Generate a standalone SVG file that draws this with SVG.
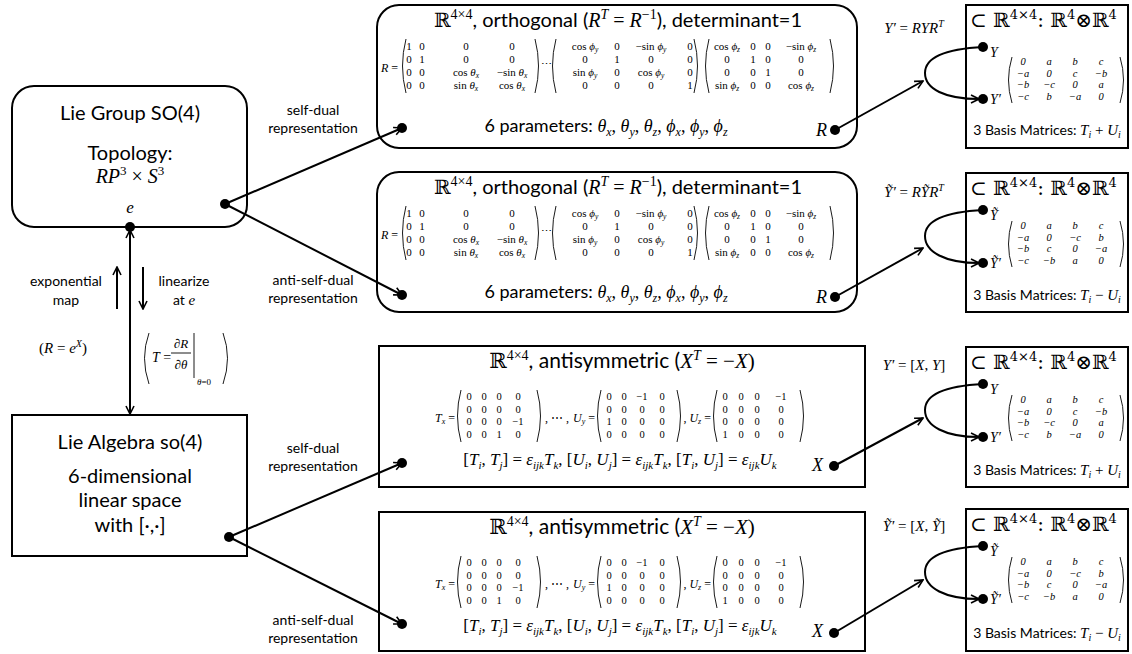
<svg xmlns="http://www.w3.org/2000/svg" width="1132" height="654" viewBox="0 0 1132 654">
<style>
.box{fill:#fff;stroke:#000;stroke-width:2}
.c{fill:none;stroke:#000;stroke-width:2}
.p{fill:none;stroke:#000;stroke-width:0.9}
.s{font-family:Lato,"Open Sans",sans-serif;fill:#000}
.m{font-family:"Liberation Serif","DejaVu Serif",serif;font-style:italic}
.r{font-family:"Liberation Serif","DejaVu Serif",serif;font-style:normal}
.bb{font-family:"DejaVu Serif",serif;font-style:normal}
.mx{font-family:"Liberation Serif","DejaVu Serif",serif;font-size:11px;text-anchor:middle}
.mz{font-family:"Liberation Serif","DejaVu Serif",serif;font-size:10.5px;text-anchor:middle}
.sm{font-family:"Liberation Serif","DejaVu Serif",serif;font-size:10.5px;text-anchor:middle;font-style:italic}
.sb{font-size:7.5px;font-style:italic}
.lbl{font-family:Lato,"Open Sans",sans-serif;font-size:14px;text-anchor:middle}
</style>
<defs>
<marker id="ah" viewBox="0 0 10 10" refX="9" refY="5" markerWidth="10" markerHeight="10" markerUnits="userSpaceOnUse" orient="auto">
<path d="M1,1 L9,5 L1,9" fill="none" stroke="#000" stroke-width="1.6"/>
</marker>
</defs>

<!-- Lie Group -->
<g id="lie-group">
<rect class="box" x="12" y="86" width="235" height="141" rx="22"/>
<text class="s" x="130" y="120" font-size="20" text-anchor="middle">Lie Group SO(4)</text>
<text class="s" x="130" y="160" font-size="20" text-anchor="middle">Topology:</text>
<text class="m" x="130" y="183" font-size="20" text-anchor="middle">RP<tspan class="r" font-size="13" dy="-8">3</tspan><tspan class="r" dy="8"> × </tspan>S<tspan class="r" font-size="13" dy="-8">3</tspan></text>
<text class="m" x="130" y="213" font-size="17" text-anchor="middle">e</text>
</g>

<!-- Lie Algebra -->
<g id="lie-algebra">
<rect class="box" x="12" y="415" width="235" height="141"/>
<text class="s" x="130" y="449" font-size="20" text-anchor="middle">Lie Algebra so(4)</text>
<text class="s" x="130" y="483" font-size="20" text-anchor="middle">6-dimensional</text>
<text class="s" x="130" y="507" font-size="20" text-anchor="middle">linear space</text>
<text class="s" x="130" y="532" font-size="20" text-anchor="middle">with [·,·]</text>
</g>

<!-- left annotations -->
<g id="exp-linearize">
<text class="lbl" x="66" y="286">exponential</text>
<text class="lbl" x="66" y="305">map</text>
<text class="lbl" x="184" y="286">linearize</text>
<text class="lbl" x="184" y="305">at <tspan class="m" font-size="15">e</tspan></text>
<text class="r" x="63" y="353" font-size="15" text-anchor="middle">(<tspan class="m">R</tspan> = <tspan class="m">e</tspan><tspan class="m" font-size="10" dy="-6">X</tspan><tspan dy="6">)</tspan></text>
<path class="p" d="M149,333 Q140,358 149,384"/>
<text class="m" x="152" y="362" font-size="14">T<tspan class="r"> =</tspan></text>
<text class="r" x="181" y="348" font-size="13" text-anchor="middle">∂<tspan class="m">R</tspan></text>
<line x1="171" y1="353" x2="191" y2="353" stroke="#000" stroke-width="0.9"/>
<text class="r" x="181" y="369" font-size="13" text-anchor="middle">∂<tspan class="m">θ</tspan></text>
<line x1="194" y1="333" x2="194" y2="378" stroke="#000" stroke-width="0.9"/>
<text class="r" x="197" y="385" font-size="9"><tspan class="m">θ</tspan>=0</text>
<path class="p" d="M223,333 Q232,358 223,384"/>
</g>

<!-- representation labels -->
<g id="rep-labels">
<text class="lbl" x="313" y="115">self-dual</text>
<text class="lbl" x="313" y="133">representation</text>
<text class="lbl" x="313" y="285">anti-self-dual</text>
<text class="lbl" x="313" y="303">representation</text>
<text class="lbl" x="313" y="453">self-dual</text>
<text class="lbl" x="313" y="471">representation</text>
<text class="lbl" x="313" y="625">anti-self-dual</text>
<text class="lbl" x="313" y="643">representation</text>
</g>

<!-- group self-dual box -->
<g id="group-sd" transform="translate(0,5)">
<rect class="box" x="377" y="0" width="480" height="143" rx="22"/>
<text class="s" x="618" y="22" font-size="20" text-anchor="middle"><tspan class="bb">ℝ</tspan><tspan class="r" font-size="14" dy="-8">4×4</tspan><tspan dy="8">, orthogonal (</tspan><tspan class="m">R</tspan><tspan class="m" font-size="14" dy="-8">T</tspan><tspan class="r" dy="8"> = </tspan><tspan class="m">R</tspan><tspan class="r" font-size="14" dy="-8">−1</tspan><tspan dy="8">), determinant=1</tspan></text>
<text class="m" x="381" y="67" font-size="12">R<tspan class="r"> =</tspan></text>
<path class="p" d="M406,34 Q399,61 406,88"/><path class="p" d="M535,34 Q542,61 535,88"/>
<text class="mx" y="45"><tspan x="409">1</tspan><tspan x="422">0</tspan><tspan x="466">0</tspan><tspan x="512">0</tspan></text>
<text class="mx" y="58"><tspan x="409">0</tspan><tspan x="422">1</tspan><tspan x="466">0</tspan><tspan x="512">0</tspan></text>
<text class="mx" y="71"><tspan x="409">0</tspan><tspan x="422">0</tspan></text>
<text class="mx" x="466" y="71">cos <tspan class="m">θ</tspan><tspan class="sb" dy="2">x</tspan></text>
<text class="mx" x="512" y="71">−sin <tspan class="m">θ</tspan><tspan class="sb" dy="2">x</tspan></text>
<text class="mx" y="84"><tspan x="409">0</tspan><tspan x="422">0</tspan></text>
<text class="mx" x="466" y="84">sin <tspan class="m">θ</tspan><tspan class="sb" dy="2">x</tspan></text>
<text class="mx" x="512" y="84">cos <tspan class="m">θ</tspan><tspan class="sb" dy="2">x</tspan></text>
<text class="mx" x="546" y="63">⋯</text>
<path class="p" d="M556,34 Q549,61 556,88"/><path class="p" d="M694,34 Q701,61 694,88"/>
<text class="mx" x="585" y="45">cos <tspan class="m">ϕ</tspan><tspan class="sb" dy="2">y</tspan></text>
<text class="mx" y="45"><tspan x="617">0</tspan><tspan x="690">0</tspan></text>
<text class="mx" x="651" y="45">−sin <tspan class="m">ϕ</tspan><tspan class="sb" dy="2">y</tspan></text>
<text class="mx" y="58"><tspan x="585">0</tspan><tspan x="617">1</tspan><tspan x="651">0</tspan><tspan x="690">0</tspan></text>
<text class="mx" x="585" y="71">sin <tspan class="m">ϕ</tspan><tspan class="sb" dy="2">y</tspan></text>
<text class="mx" y="71"><tspan x="617">0</tspan><tspan x="690">0</tspan></text>
<text class="mx" x="651" y="71">cos <tspan class="m">ϕ</tspan><tspan class="sb" dy="2">y</tspan></text>
<text class="mx" y="84"><tspan x="585">0</tspan><tspan x="617">0</tspan><tspan x="651">0</tspan><tspan x="690">1</tspan></text>
<path class="p" d="M709,34 Q702,61 709,88"/><path class="p" d="M830,34 Q837,61 830,88"/>
<text class="mx" x="727" y="45">cos <tspan class="m">ϕ</tspan><tspan class="sb" dy="2">z</tspan></text>
<text class="mx" y="45"><tspan x="753">0</tspan><tspan x="768">0</tspan></text>
<text class="mx" x="801" y="45">−sin <tspan class="m">ϕ</tspan><tspan class="sb" dy="2">z</tspan></text>
<text class="mx" y="58"><tspan x="727">0</tspan><tspan x="753">1</tspan><tspan x="768">0</tspan><tspan x="801">0</tspan></text>
<text class="mx" y="71"><tspan x="727">0</tspan><tspan x="753">0</tspan><tspan x="768">1</tspan><tspan x="801">0</tspan></text>
<text class="mx" x="727" y="84">sin <tspan class="m">ϕ</tspan><tspan class="sb" dy="2">z</tspan></text>
<text class="mx" y="84"><tspan x="753">0</tspan><tspan x="768">0</tspan></text>
<text class="mx" x="801" y="84">cos <tspan class="m">ϕ</tspan><tspan class="sb" dy="2">z</tspan></text>
<text class="s" x="606" y="127" font-size="18" text-anchor="middle">6 parameters: <tspan class="m">θ</tspan><tspan class="m" font-size="12" dy="4">x</tspan><tspan class="r" dy="-4">, </tspan><tspan class="m">θ</tspan><tspan class="m" font-size="12" dy="4">y</tspan><tspan class="r" dy="-4">, </tspan><tspan class="m">θ</tspan><tspan class="m" font-size="12" dy="4">z</tspan><tspan class="r" dy="-4">, </tspan><tspan class="m">ϕ</tspan><tspan class="m" font-size="12" dy="4">x</tspan><tspan class="r" dy="-4">, </tspan><tspan class="m">ϕ</tspan><tspan class="m" font-size="12" dy="4">y</tspan><tspan class="r" dy="-4">, </tspan><tspan class="m">ϕ</tspan><tspan class="m" font-size="12" dy="4">z</tspan></text>
<text class="m" x="816" y="131" font-size="18">R</text>
</g>

<!-- group anti-self-dual box -->
<g id="group-asd" transform="translate(0,172)">
<rect class="box" x="377" y="0" width="480" height="140" rx="22"/>
<text class="s" x="618" y="22" font-size="20" text-anchor="middle"><tspan class="bb">ℝ</tspan><tspan class="r" font-size="14" dy="-8">4×4</tspan><tspan dy="8">, orthogonal (</tspan><tspan class="m">R</tspan><tspan class="m" font-size="14" dy="-8">T</tspan><tspan class="r" dy="8"> = </tspan><tspan class="m">R</tspan><tspan class="r" font-size="14" dy="-8">−1</tspan><tspan dy="8">), determinant=1</tspan></text>
<text class="m" x="381" y="67" font-size="12">R<tspan class="r"> =</tspan></text>
<path class="p" d="M406,34 Q399,61 406,88"/><path class="p" d="M535,34 Q542,61 535,88"/>
<text class="mx" y="45"><tspan x="409">1</tspan><tspan x="422">0</tspan><tspan x="466">0</tspan><tspan x="512">0</tspan></text>
<text class="mx" y="58"><tspan x="409">0</tspan><tspan x="422">1</tspan><tspan x="466">0</tspan><tspan x="512">0</tspan></text>
<text class="mx" y="71"><tspan x="409">0</tspan><tspan x="422">0</tspan></text>
<text class="mx" x="466" y="71">cos <tspan class="m">θ</tspan><tspan class="sb" dy="2">x</tspan></text>
<text class="mx" x="512" y="71">−sin <tspan class="m">θ</tspan><tspan class="sb" dy="2">x</tspan></text>
<text class="mx" y="84"><tspan x="409">0</tspan><tspan x="422">0</tspan></text>
<text class="mx" x="466" y="84">sin <tspan class="m">θ</tspan><tspan class="sb" dy="2">x</tspan></text>
<text class="mx" x="512" y="84">cos <tspan class="m">θ</tspan><tspan class="sb" dy="2">x</tspan></text>
<text class="mx" x="546" y="63">⋯</text>
<path class="p" d="M556,34 Q549,61 556,88"/><path class="p" d="M694,34 Q701,61 694,88"/>
<text class="mx" x="585" y="45">cos <tspan class="m">ϕ</tspan><tspan class="sb" dy="2">y</tspan></text>
<text class="mx" y="45"><tspan x="617">0</tspan><tspan x="690">0</tspan></text>
<text class="mx" x="651" y="45">−sin <tspan class="m">ϕ</tspan><tspan class="sb" dy="2">y</tspan></text>
<text class="mx" y="58"><tspan x="585">0</tspan><tspan x="617">1</tspan><tspan x="651">0</tspan><tspan x="690">0</tspan></text>
<text class="mx" x="585" y="71">sin <tspan class="m">ϕ</tspan><tspan class="sb" dy="2">y</tspan></text>
<text class="mx" y="71"><tspan x="617">0</tspan><tspan x="690">0</tspan></text>
<text class="mx" x="651" y="71">cos <tspan class="m">ϕ</tspan><tspan class="sb" dy="2">y</tspan></text>
<text class="mx" y="84"><tspan x="585">0</tspan><tspan x="617">0</tspan><tspan x="651">0</tspan><tspan x="690">1</tspan></text>
<path class="p" d="M709,34 Q702,61 709,88"/><path class="p" d="M830,34 Q837,61 830,88"/>
<text class="mx" x="727" y="45">cos <tspan class="m">ϕ</tspan><tspan class="sb" dy="2">z</tspan></text>
<text class="mx" y="45"><tspan x="753">0</tspan><tspan x="768">0</tspan></text>
<text class="mx" x="801" y="45">−sin <tspan class="m">ϕ</tspan><tspan class="sb" dy="2">z</tspan></text>
<text class="mx" y="58"><tspan x="727">0</tspan><tspan x="753">1</tspan><tspan x="768">0</tspan><tspan x="801">0</tspan></text>
<text class="mx" y="71"><tspan x="727">0</tspan><tspan x="753">0</tspan><tspan x="768">1</tspan><tspan x="801">0</tspan></text>
<text class="mx" x="727" y="84">sin <tspan class="m">ϕ</tspan><tspan class="sb" dy="2">z</tspan></text>
<text class="mx" y="84"><tspan x="753">0</tspan><tspan x="768">0</tspan></text>
<text class="mx" x="801" y="84">cos <tspan class="m">ϕ</tspan><tspan class="sb" dy="2">z</tspan></text>
<text class="s" x="606" y="126" font-size="18" text-anchor="middle">6 parameters: <tspan class="m">θ</tspan><tspan class="m" font-size="12" dy="4">x</tspan><tspan class="r" dy="-4">, </tspan><tspan class="m">θ</tspan><tspan class="m" font-size="12" dy="4">y</tspan><tspan class="r" dy="-4">, </tspan><tspan class="m">θ</tspan><tspan class="m" font-size="12" dy="4">z</tspan><tspan class="r" dy="-4">, </tspan><tspan class="m">ϕ</tspan><tspan class="m" font-size="12" dy="4">x</tspan><tspan class="r" dy="-4">, </tspan><tspan class="m">ϕ</tspan><tspan class="m" font-size="12" dy="4">y</tspan><tspan class="r" dy="-4">, </tspan><tspan class="m">ϕ</tspan><tspan class="m" font-size="12" dy="4">z</tspan></text>
<text class="m" x="816" y="131" font-size="18">R</text>
</g>

<!-- algebra self-dual box -->
<g id="algebra-sd" transform="translate(0,346)">
<rect class="box" x="379" y="0" width="486" height="141"/>
<text class="s" x="622" y="22" font-size="21" text-anchor="middle"><tspan class="bb">ℝ</tspan><tspan class="r" font-size="14" dy="-8">4×4</tspan><tspan dy="8">, antisymmetric (</tspan><tspan class="m">X</tspan><tspan class="m" font-size="14" dy="-8">T</tspan><tspan class="r" dy="8"> = −</tspan><tspan class="m">X</tspan><tspan class="r">)</tspan></text>
<text class="m" x="455" y="76" font-size="12" text-anchor="end">T<tspan font-size="8" dy="2">x</tspan><tspan class="r" dy="-2"> =</tspan></text>
<path class="p" d="M461,44 Q454,70 461,96"/><path class="p" d="M537,44 Q544,70 537,96"/>
<text class="mz" y="54"><tspan x="469">0</tspan><tspan x="484">0</tspan><tspan x="499">0</tspan><tspan x="518">0</tspan></text>
<text class="mz" y="66.5"><tspan x="469">0</tspan><tspan x="484">0</tspan><tspan x="499">0</tspan><tspan x="518">0</tspan></text>
<text class="mz" y="79"><tspan x="469">0</tspan><tspan x="484">0</tspan><tspan x="499">0</tspan><tspan x="518">−1</tspan></text>
<text class="mz" y="91.5"><tspan x="469">0</tspan><tspan x="484">0</tspan><tspan x="499">1</tspan><tspan x="518">0</tspan></text>
<text class="r" x="545" y="76" font-size="12">, ⋯ ,</text>
<text class="m" x="595" y="76" font-size="12" text-anchor="end">U<tspan font-size="8" dy="2">y</tspan><tspan class="r" dy="-2"> =</tspan></text>
<path class="p" d="M601,44 Q594,70 601,96"/><path class="p" d="M677,44 Q684,70 677,96"/>
<text class="mz" y="54"><tspan x="609">0</tspan><tspan x="624">0</tspan><tspan x="642">−1</tspan><tspan x="662">0</tspan></text>
<text class="mz" y="66.5"><tspan x="609">0</tspan><tspan x="624">0</tspan><tspan x="642">0</tspan><tspan x="662">0</tspan></text>
<text class="mz" y="79"><tspan x="609">1</tspan><tspan x="624">0</tspan><tspan x="642">0</tspan><tspan x="662">0</tspan></text>
<text class="mz" y="91.5"><tspan x="609">0</tspan><tspan x="624">0</tspan><tspan x="642">0</tspan><tspan x="662">0</tspan></text>
<text class="m" x="711" y="76" font-size="12" text-anchor="end"><tspan class="r">, </tspan>U<tspan font-size="8" dy="2">z</tspan><tspan class="r" dy="-2"> =</tspan></text>
<path class="p" d="M717,44 Q710,70 717,96"/><path class="p" d="M800,44 Q807,70 800,96"/>
<text class="mz" y="54"><tspan x="725">0</tspan><tspan x="741">0</tspan><tspan x="757">0</tspan><tspan x="781">−1</tspan></text>
<text class="mz" y="66.5"><tspan x="725">0</tspan><tspan x="741">0</tspan><tspan x="757">0</tspan><tspan x="781">0</tspan></text>
<text class="mz" y="79"><tspan x="725">0</tspan><tspan x="741">0</tspan><tspan x="757">0</tspan><tspan x="781">0</tspan></text>
<text class="mz" y="91.5"><tspan x="725">1</tspan><tspan x="741">0</tspan><tspan x="757">0</tspan><tspan x="781">0</tspan></text>
<text class="r" x="620" y="119" font-size="17" text-anchor="middle">[<tspan class="m">T</tspan><tspan class="m" font-size="11" dy="4">i</tspan><tspan dy="-4">, </tspan><tspan class="m">T</tspan><tspan class="m" font-size="11" dy="4">j</tspan><tspan dy="-4">] = </tspan><tspan class="m">ε</tspan><tspan class="m" font-size="11" dy="4">ijk</tspan><tspan class="m" dy="-4">T</tspan><tspan class="m" font-size="11" dy="4">k</tspan><tspan dy="-4">,  [</tspan><tspan class="m">U</tspan><tspan class="m" font-size="11" dy="4">i</tspan><tspan dy="-4">, </tspan><tspan class="m">U</tspan><tspan class="m" font-size="11" dy="4">j</tspan><tspan dy="-4">] = </tspan><tspan class="m">ε</tspan><tspan class="m" font-size="11" dy="4">ijk</tspan><tspan class="m" dy="-4">T</tspan><tspan class="m" font-size="11" dy="4">k</tspan><tspan dy="-4">,  [</tspan><tspan class="m">T</tspan><tspan class="m" font-size="11" dy="4">i</tspan><tspan dy="-4">, </tspan><tspan class="m">U</tspan><tspan class="m" font-size="11" dy="4">j</tspan><tspan dy="-4">] = </tspan><tspan class="m">ε</tspan><tspan class="m" font-size="11" dy="4">ijk</tspan><tspan class="m" dy="-4">U</tspan><tspan class="m" font-size="11" dy="4">k</tspan></text>
<text class="m" x="812" y="125" font-size="18">X</text>
</g>

<!-- algebra anti-self-dual box -->
<g id="algebra-asd" transform="translate(0,512)">
<rect class="box" x="379" y="0" width="486" height="139"/>
<text class="s" x="622" y="22" font-size="21" text-anchor="middle"><tspan class="bb">ℝ</tspan><tspan class="r" font-size="14" dy="-8">4×4</tspan><tspan dy="8">, antisymmetric (</tspan><tspan class="m">X</tspan><tspan class="m" font-size="14" dy="-8">T</tspan><tspan class="r" dy="8"> = −</tspan><tspan class="m">X</tspan><tspan class="r">)</tspan></text>
<text class="m" x="455" y="76" font-size="12" text-anchor="end">T<tspan font-size="8" dy="2">x</tspan><tspan class="r" dy="-2"> =</tspan></text>
<path class="p" d="M461,44 Q454,70 461,96"/><path class="p" d="M537,44 Q544,70 537,96"/>
<text class="mz" y="54"><tspan x="469">0</tspan><tspan x="484">0</tspan><tspan x="499">0</tspan><tspan x="518">0</tspan></text>
<text class="mz" y="66.5"><tspan x="469">0</tspan><tspan x="484">0</tspan><tspan x="499">0</tspan><tspan x="518">0</tspan></text>
<text class="mz" y="79"><tspan x="469">0</tspan><tspan x="484">0</tspan><tspan x="499">0</tspan><tspan x="518">−1</tspan></text>
<text class="mz" y="91.5"><tspan x="469">0</tspan><tspan x="484">0</tspan><tspan x="499">1</tspan><tspan x="518">0</tspan></text>
<text class="r" x="545" y="76" font-size="12">, ⋯ ,</text>
<text class="m" x="595" y="76" font-size="12" text-anchor="end">U<tspan font-size="8" dy="2">y</tspan><tspan class="r" dy="-2"> =</tspan></text>
<path class="p" d="M601,44 Q594,70 601,96"/><path class="p" d="M677,44 Q684,70 677,96"/>
<text class="mz" y="54"><tspan x="609">0</tspan><tspan x="624">0</tspan><tspan x="642">−1</tspan><tspan x="662">0</tspan></text>
<text class="mz" y="66.5"><tspan x="609">0</tspan><tspan x="624">0</tspan><tspan x="642">0</tspan><tspan x="662">0</tspan></text>
<text class="mz" y="79"><tspan x="609">1</tspan><tspan x="624">0</tspan><tspan x="642">0</tspan><tspan x="662">0</tspan></text>
<text class="mz" y="91.5"><tspan x="609">0</tspan><tspan x="624">0</tspan><tspan x="642">0</tspan><tspan x="662">0</tspan></text>
<text class="m" x="711" y="76" font-size="12" text-anchor="end"><tspan class="r">, </tspan>U<tspan font-size="8" dy="2">z</tspan><tspan class="r" dy="-2"> =</tspan></text>
<path class="p" d="M717,44 Q710,70 717,96"/><path class="p" d="M800,44 Q807,70 800,96"/>
<text class="mz" y="54"><tspan x="725">0</tspan><tspan x="741">0</tspan><tspan x="757">0</tspan><tspan x="781">−1</tspan></text>
<text class="mz" y="66.5"><tspan x="725">0</tspan><tspan x="741">0</tspan><tspan x="757">0</tspan><tspan x="781">0</tspan></text>
<text class="mz" y="79"><tspan x="725">0</tspan><tspan x="741">0</tspan><tspan x="757">0</tspan><tspan x="781">0</tspan></text>
<text class="mz" y="91.5"><tspan x="725">1</tspan><tspan x="741">0</tspan><tspan x="757">0</tspan><tspan x="781">0</tspan></text>
<text class="r" x="620" y="119" font-size="17" text-anchor="middle">[<tspan class="m">T</tspan><tspan class="m" font-size="11" dy="4">i</tspan><tspan dy="-4">, </tspan><tspan class="m">T</tspan><tspan class="m" font-size="11" dy="4">j</tspan><tspan dy="-4">] = </tspan><tspan class="m">ε</tspan><tspan class="m" font-size="11" dy="4">ijk</tspan><tspan class="m" dy="-4">T</tspan><tspan class="m" font-size="11" dy="4">k</tspan><tspan dy="-4">,  [</tspan><tspan class="m">U</tspan><tspan class="m" font-size="11" dy="4">i</tspan><tspan dy="-4">, </tspan><tspan class="m">U</tspan><tspan class="m" font-size="11" dy="4">j</tspan><tspan dy="-4">] = </tspan><tspan class="m">ε</tspan><tspan class="m" font-size="11" dy="4">ijk</tspan><tspan class="m" dy="-4">T</tspan><tspan class="m" font-size="11" dy="4">k</tspan><tspan dy="-4">,  [</tspan><tspan class="m">T</tspan><tspan class="m" font-size="11" dy="4">i</tspan><tspan dy="-4">, </tspan><tspan class="m">U</tspan><tspan class="m" font-size="11" dy="4">j</tspan><tspan dy="-4">] = </tspan><tspan class="m">ε</tspan><tspan class="m" font-size="11" dy="4">ijk</tspan><tspan class="m" dy="-4">U</tspan><tspan class="m" font-size="11" dy="4">k</tspan></text>
<text class="m" x="812" y="125" font-size="18">X</text>
</g>

<!-- transformation labels -->
<g id="action-labels">
<text class="m" x="914" y="33" font-size="15" text-anchor="middle">Y′<tspan class="r"> = </tspan>RYR<tspan font-size="10" dy="-6">T</tspan></text>
<text class="m" x="914" y="197" font-size="15" text-anchor="middle">Ỹ′<tspan class="r"> = </tspan>RỸR<tspan font-size="10" dy="-6">T</tspan></text>
<text class="m" x="914" y="370" font-size="15" text-anchor="middle">Y′<tspan class="r"> = [</tspan>X<tspan class="r">, </tspan>Y<tspan class="r">]</tspan></text>
<text class="m" x="914" y="531" font-size="15" text-anchor="middle">Ỹ′<tspan class="r"> = [</tspan>X<tspan class="r">, </tspan>Ỹ<tspan class="r">]</tspan></text>
</g>

<!-- right boxes -->
<g id="space-sd-group">
<rect class="box" x="966" y="5" width="162" height="143"/>
<text class="bb" x="970" y="27" font-size="20">⊂ ℝ<tspan font-size="13" dy="-8">4×4</tspan><tspan dy="8">: ℝ</tspan><tspan font-size="13" dy="-8">4</tspan><tspan dy="8">⊗ℝ</tspan><tspan font-size="13" dy="-8">4</tspan></text>
<text class="m" x="990" y="57" font-size="14">Y</text>
<text class="m" x="990" y="104" font-size="14">Y′</text>
<path class="p" d="M1012,57 Q1005,80 1012,103"/><path class="p" d="M1120,57 Q1127,80 1120,103"/>
<text class="sm" y="65"><tspan x="1023">0</tspan><tspan x="1049">a</tspan><tspan x="1075">b</tspan><tspan x="1101">c</tspan></text>
<text class="sm" y="76.5"><tspan x="1023">−a</tspan><tspan x="1049">0</tspan><tspan x="1075">c</tspan><tspan x="1101">−b</tspan></text>
<text class="sm" y="88"><tspan x="1023">−b</tspan><tspan x="1049">−c</tspan><tspan x="1075">0</tspan><tspan x="1101">a</tspan></text>
<text class="sm" y="99.5"><tspan x="1023">−c</tspan><tspan x="1049">b</tspan><tspan x="1075">−a</tspan><tspan x="1101">0</tspan></text>
<text class="s" x="1047" y="135" font-size="14" text-anchor="middle">3 Basis Matrices: <tspan class="m" font-size="15">T</tspan><tspan class="m" font-size="10" dy="3">i</tspan><tspan class="r" font-size="15" dy="-3"> + </tspan><tspan class="m" font-size="15">U</tspan><tspan class="m" font-size="10" dy="3">i</tspan></text>
</g>

<g id="space-asd-group">
<rect class="box" x="966" y="173" width="162" height="139"/>
<text class="bb" x="970" y="195" font-size="20">⊂ ℝ<tspan font-size="13" dy="-8">4×4</tspan><tspan dy="8">: ℝ</tspan><tspan font-size="13" dy="-8">4</tspan><tspan dy="8">⊗ℝ</tspan><tspan font-size="13" dy="-8">4</tspan></text>
<text class="m" x="990" y="220" font-size="14">Ỹ</text>
<text class="m" x="990" y="268" font-size="14">Ỹ′</text>
<path class="p" d="M1012,221 Q1005,244 1012,267"/><path class="p" d="M1120,221 Q1127,244 1120,267"/>
<text class="sm" y="229"><tspan x="1023">0</tspan><tspan x="1049">a</tspan><tspan x="1075">b</tspan><tspan x="1101">c</tspan></text>
<text class="sm" y="240.5"><tspan x="1023">−a</tspan><tspan x="1049">0</tspan><tspan x="1075">−c</tspan><tspan x="1101">b</tspan></text>
<text class="sm" y="252"><tspan x="1023">−b</tspan><tspan x="1049">c</tspan><tspan x="1075">0</tspan><tspan x="1101">−a</tspan></text>
<text class="sm" y="263.5"><tspan x="1023">−c</tspan><tspan x="1049">−b</tspan><tspan x="1075">a</tspan><tspan x="1101">0</tspan></text>
<text class="s" x="1047" y="300" font-size="14" text-anchor="middle">3 Basis Matrices: <tspan class="m" font-size="15">T</tspan><tspan class="m" font-size="10" dy="3">i</tspan><tspan class="r" font-size="15" dy="-3"> − </tspan><tspan class="m" font-size="15">U</tspan><tspan class="m" font-size="10" dy="3">i</tspan></text>
</g>

<g id="space-sd-algebra">
<rect class="box" x="966" y="347" width="162" height="140"/>
<text class="bb" x="970" y="369" font-size="20">⊂ ℝ<tspan font-size="13" dy="-8">4×4</tspan><tspan dy="8">: ℝ</tspan><tspan font-size="13" dy="-8">4</tspan><tspan dy="8">⊗ℝ</tspan><tspan font-size="13" dy="-8">4</tspan></text>
<text class="m" x="990" y="394" font-size="14">Y</text>
<text class="m" x="990" y="442" font-size="14">Y′</text>
<path class="p" d="M1012,395 Q1005,418 1012,441"/><path class="p" d="M1120,395 Q1127,418 1120,441"/>
<text class="sm" y="403"><tspan x="1023">0</tspan><tspan x="1049">a</tspan><tspan x="1075">b</tspan><tspan x="1101">c</tspan></text>
<text class="sm" y="414.5"><tspan x="1023">−a</tspan><tspan x="1049">0</tspan><tspan x="1075">c</tspan><tspan x="1101">−b</tspan></text>
<text class="sm" y="426"><tspan x="1023">−b</tspan><tspan x="1049">−c</tspan><tspan x="1075">0</tspan><tspan x="1101">a</tspan></text>
<text class="sm" y="437.5"><tspan x="1023">−c</tspan><tspan x="1049">b</tspan><tspan x="1075">−a</tspan><tspan x="1101">0</tspan></text>
<text class="s" x="1047" y="475" font-size="14" text-anchor="middle">3 Basis Matrices: <tspan class="m" font-size="15">T</tspan><tspan class="m" font-size="10" dy="3">i</tspan><tspan class="r" font-size="15" dy="-3"> + </tspan><tspan class="m" font-size="15">U</tspan><tspan class="m" font-size="10" dy="3">i</tspan></text>
</g>

<g id="space-asd-algebra">
<rect class="box" x="966" y="509" width="162" height="142"/>
<text class="bb" x="970" y="531" font-size="20">⊂ ℝ<tspan font-size="13" dy="-8">4×4</tspan><tspan dy="8">: ℝ</tspan><tspan font-size="13" dy="-8">4</tspan><tspan dy="8">⊗ℝ</tspan><tspan font-size="13" dy="-8">4</tspan></text>
<text class="m" x="990" y="556" font-size="14">Ỹ</text>
<text class="m" x="990" y="604" font-size="14">Ỹ′</text>
<path class="p" d="M1012,557 Q1005,580 1012,603"/><path class="p" d="M1120,557 Q1127,580 1120,603"/>
<text class="sm" y="565"><tspan x="1023">0</tspan><tspan x="1049">a</tspan><tspan x="1075">b</tspan><tspan x="1101">c</tspan></text>
<text class="sm" y="576.5"><tspan x="1023">−a</tspan><tspan x="1049">0</tspan><tspan x="1075">−c</tspan><tspan x="1101">b</tspan></text>
<text class="sm" y="588"><tspan x="1023">−b</tspan><tspan x="1049">c</tspan><tspan x="1075">0</tspan><tspan x="1101">−a</tspan></text>
<text class="sm" y="599.5"><tspan x="1023">−c</tspan><tspan x="1049">−b</tspan><tspan x="1075">a</tspan><tspan x="1101">0</tspan></text>
<text class="s" x="1047" y="638" font-size="14" text-anchor="middle">3 Basis Matrices: <tspan class="m" font-size="15">T</tspan><tspan class="m" font-size="10" dy="3">i</tspan><tspan class="r" font-size="15" dy="-3"> − </tspan><tspan class="m" font-size="15">U</tspan><tspan class="m" font-size="10" dy="3">i</tspan></text>
</g>

<!-- connectors -->
<g id="connectors">
<line class="c" x1="225" y1="204" x2="402" y2="128" marker-end="url(#ah)"/>
<line class="c" x1="225" y1="204" x2="402" y2="295" marker-end="url(#ah)"/>
<line class="c" x1="229" y1="537" x2="402" y2="463" marker-end="url(#ah)"/>
<line class="c" x1="229" y1="537" x2="402" y2="624" marker-end="url(#ah)"/>
<line class="c" stroke-width="1.6" x1="130" y1="322" x2="130" y2="230" marker-end="url(#ah)"/>
<line class="c" stroke-width="1.6" x1="130" y1="322" x2="130" y2="414" marker-end="url(#ah)"/>
<line class="c" stroke-width="1.6" x1="117" y1="309" x2="117" y2="267" marker-end="url(#ah)"/>
<line class="c" stroke-width="1.6" x1="143" y1="267" x2="143" y2="309" marker-end="url(#ah)"/>
<line class="c" x1="835" y1="130" x2="923" y2="81" marker-end="url(#ah)"/>
<path class="c" d="M983,47 C945,49 925,58 925,73 C925,89 945,99 979,99" marker-end="url(#ah)"/>
<line class="c" x1="835" y1="297" x2="923" y2="248" marker-end="url(#ah)"/>
<path class="c" d="M983,210 C945,212 925,221 925,236 C925,252 945,263 979,263" marker-end="url(#ah)"/>
<line class="c" x1="834" y1="466" x2="923" y2="418" marker-end="url(#ah)"/>
<path class="c" d="M983,384 C945,386 925,395 925,410 C925,426 945,437 979,437" marker-end="url(#ah)"/>
<line class="c" x1="834" y1="633" x2="923" y2="580" marker-end="url(#ah)"/>
<path class="c" d="M983,546 C945,548 925,557 925,572 C925,588 945,599 979,599" marker-end="url(#ah)"/>
<g fill="#000">
<circle cx="225" cy="204" r="5"/><circle cx="229" cy="537" r="5"/><circle cx="130" cy="227" r="5"/>
<circle cx="402" cy="128" r="5"/><circle cx="402" cy="295" r="5"/><circle cx="402" cy="463" r="5"/><circle cx="402" cy="624" r="5"/>
<circle cx="835" cy="130" r="5"/><circle cx="835" cy="297" r="5"/><circle cx="834" cy="466" r="5"/><circle cx="834" cy="633" r="5"/>
<circle cx="983" cy="47" r="5"/><circle cx="983" cy="99" r="5"/><circle cx="983" cy="210" r="5"/><circle cx="983" cy="263" r="5"/>
<circle cx="983" cy="384" r="5"/><circle cx="983" cy="437" r="5"/><circle cx="983" cy="546" r="5"/><circle cx="983" cy="599" r="5"/>
</g>
</g>
</svg>
